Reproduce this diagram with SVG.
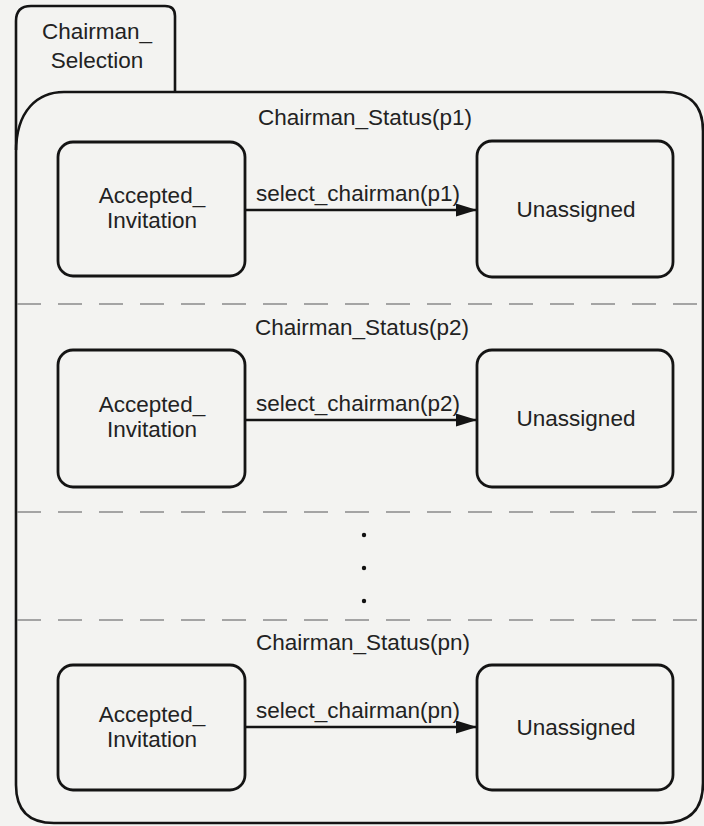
<svg xmlns="http://www.w3.org/2000/svg" width="704" height="826" viewBox="0 0 704 826">
  <style>
    .frame { fill: none; stroke: #141414; stroke-width: 2.6; stroke-linejoin: round; }
    .state { fill: none; stroke: #141414; stroke-width: 2.8; }
    .sep { stroke: #8a8a8a; stroke-width: 1.6; stroke-dasharray: 24 17; fill: none; }
    .edge { stroke: #141414; stroke-width: 2.6; fill: none; }
    text { font-family: "Liberation Sans", Arial, Helvetica, sans-serif; font-size: 22.5px; fill: #222; }
    .c { text-anchor: middle; }
  </style>
  <defs>
    <marker id="arrow" viewBox="0 0 21 13" refX="21" refY="6.5" markerWidth="21" markerHeight="13" markerUnits="userSpaceOnUse" orient="auto">
      <path d="M0,0 L21,6.5 L0,13 Z" fill="#141414"/>
    </marker>
  </defs>
  <rect width="704" height="826" fill="#f3f3f1"/>

  <!-- composite state: tab and body -->
  <g id="chairman_selection">
    <path class="frame" d="M16,150 L16,21 Q16,6 31,6 L165,6 Q175,6 175,16 L175,92"/>
    <path class="frame" d="M16,152 C16,110 38,92 64,92 L664,92 Q703,92 703,131 L703,783 Q703,823 663,823 L54,823 Q16,823 16,785 Z"/>
    <text class="c" x="97" y="39">Chairman_</text>
    <text class="c" x="97" y="68">Selection</text>
  </g>

  <!-- region separators -->
  <g id="separators">
    <line class="sep" x1="17" y1="304" x2="703" y2="304"/>
    <line class="sep" x1="17" y1="512" x2="703" y2="512"/>
    <line class="sep" x1="17" y1="620" x2="703" y2="620"/>
  </g>

  <!-- region titles -->
  <g id="region_titles">
    <text class="c" x="365" y="125">Chairman_Status(p1)</text>
    <text class="c" x="362" y="335">Chairman_Status(p2)</text>
    <text class="c" x="363" y="650">Chairman_Status(pn)</text>
  </g>

  <!-- ellipsis between regions -->
  <g id="ellipsis" fill="#111">
    <circle cx="364" cy="535" r="2.2"/>
    <circle cx="364" cy="568" r="2.2"/>
    <circle cx="364" cy="601" r="2.2"/>
  </g>

  <!-- region p1 -->
  <g id="accepted_p1">
    <rect class="state" x="58" y="142" width="187" height="134" rx="15"/>
    <text class="c" x="152" y="203">Accepted_</text>
    <text class="c" x="152" y="228">Invitation</text>
  </g>
  <g id="unassigned_p1">
    <rect class="state" x="477" y="141" width="196" height="136" rx="15"/>
    <text class="c" x="576" y="217">Unassigned</text>
  </g>

  <!-- region p2 -->
  <g id="accepted_p2">
    <rect class="state" x="58" y="350" width="187" height="137" rx="15"/>
    <text class="c" x="152" y="412">Accepted_</text>
    <text class="c" x="152" y="437">Invitation</text>
  </g>
  <g id="unassigned_p2">
    <rect class="state" x="477" y="350" width="196" height="137" rx="15"/>
    <text class="c" x="576" y="426">Unassigned</text>
  </g>

  <!-- region pn -->
  <g id="accepted_pn">
    <rect class="state" x="58" y="665" width="187" height="125" rx="15"/>
    <text class="c" x="152" y="722">Accepted_</text>
    <text class="c" x="152" y="747">Invitation</text>
  </g>
  <g id="unassigned_pn">
    <rect class="state" x="477" y="665" width="196" height="125" rx="15"/>
    <text class="c" x="576" y="735">Unassigned</text>
  </g>

  <!-- transitions -->
  <g id="connectors">
    <line class="edge" x1="245" y1="210" x2="477" y2="210" marker-end="url(#arrow)"/>
    <text class="c" x="358" y="201">select_chairman(p1)</text>
    <line class="edge" x1="245" y1="420" x2="477" y2="420" marker-end="url(#arrow)"/>
    <text class="c" x="358" y="411">select_chairman(p2)</text>
    <line class="edge" x1="245" y1="727" x2="477" y2="727" marker-end="url(#arrow)"/>
    <text class="c" x="358" y="718">select_chairman(pn)</text>
  </g>
</svg>
